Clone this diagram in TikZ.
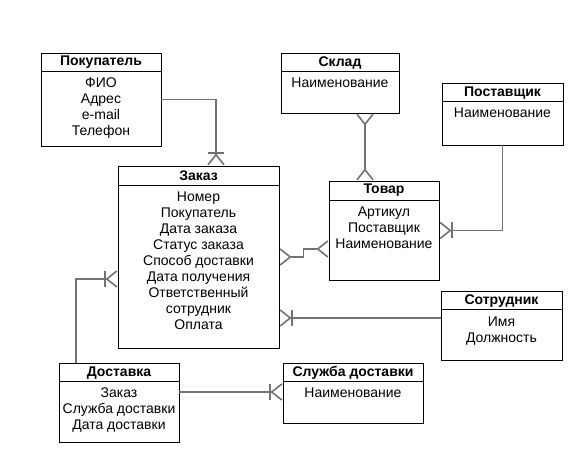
\documentclass[tikz,border=0pt]{standalone}
\usepackage{fontspec}
\setmainfont{Liberation Sans}
\usetikzlibrary{arrows.meta}

\begin{document}
\begin{tikzpicture}[x=1pt,y=-1pt,
  entity/.style={draw, line width=0.8pt, inner sep=0pt},
  title/.style={font=\fontsize{14}{16}\selectfont\bfseries, inner sep=0pt},
  attr/.style={font=\fontsize{14}{16}\selectfont, align=center, anchor=north, inner sep=0pt},
  link/.style={draw=black!55, line width=1.6pt},
  many/.style={-{Straight Barb[reversed, length=10pt, width=16pt]}},
  manymany/.style={{Straight Barb[reversed, length=10pt, width=16pt]}-{Straight Barb[reversed, length=10pt, width=16pt]}},
  onemany/.style={-{Bar[width=16pt, sep=0pt]Straight Barb[reversed, length=10pt, width=16pt]}}]
\useasboundingbox (0,0) rectangle (583,462);

% Покупатель
\node[entity, minimum width=120pt, minimum height=93pt] (pokup) at (101,99.5) {};
\draw ([yshift=-19pt]pokup.north west) -- ([yshift=-19pt]pokup.north east);
\node[title] at ([yshift=-10pt]pokup.north) {Покупатель};
\node[attr] at (101,78) {ФИО\\Адрес\\e-mail\\Телефон};

% Заказ
\node[entity, minimum width=161pt, minimum height=182pt] (zakaz) at (198.5,257) {};
\draw ([yshift=-20pt]zakaz.north west) -- ([yshift=-20pt]zakaz.north east);
\node[title] at ([yshift=-10pt]zakaz.north) {Заказ};
\node[attr] at (198.5,191.5) {Номер\\Покупатель\\Дата заказа\\Статус заказа\\Способ доставки\\Дата получения\\Ответственный\\сотрудник\\Оплата};

% Склад
\node[entity, minimum width=118pt, minimum height=60pt] (sklad) at (340,83) {};
\draw ([yshift=-19pt]sklad.north west) -- ([yshift=-19pt]sklad.north east);
\node[title] at ([yshift=-10pt]sklad.north) {Склад};
\node[attr] at (340,78) {Наименование};

% Поставщик
\node[entity, minimum width=121pt, minimum height=62pt] (postav) at (502.5,114) {};
\draw ([yshift=-19pt]postav.north west) -- ([yshift=-19pt]postav.north east);
\node[title] at ([yshift=-10pt]postav.north) {Поставщик};
\node[attr] at (502.5,108) {Наименование};

% Товар
\node[entity, minimum width=110pt, minimum height=99pt] (tovar) at (384,230.5) {};
\draw ([yshift=-20pt]tovar.north west) -- ([yshift=-20pt]tovar.north east);
\node[title] at ([yshift=-10pt]tovar.north) {Товар};
\node[attr] at (384,206.5) {Артикул\\Поставщик\\Наименование};

% Сотрудник
\node[entity, minimum width=121pt, minimum height=69pt] (sotr) at (501.5,325.5) {};
\draw ([yshift=-19pt]sotr.north west) -- ([yshift=-19pt]sotr.north east);
\node[title] at ([yshift=-10pt]sotr.north) {Сотрудник};
\node[attr] at (501.5,316.5) {Имя\\Должность};

% Доставка
\node[entity, minimum width=120pt, minimum height=79pt] (dost) at (119,402.5) {};
\draw ([yshift=-19pt]dost.north west) -- ([yshift=-19pt]dost.north east);
\node[title] at ([yshift=-10pt]dost.north) {Доставка};
\node[attr] at (119,388) {Заказ\\Служба доставки\\Дата доставки};

% Служба доставки
\node[entity, minimum width=140pt, minimum height=60pt] (sluzhba) at (353,393) {};
\draw ([yshift=-19pt]sluzhba.north west) -- ([yshift=-19pt]sluzhba.north east);
\node[title] at ([yshift=-10pt]sluzhba.north) {Служба доставки};
\node[attr] at (353,388) {Наименование};

% связи
\draw[link, onemany] (pokup.east) -| ([xshift=17.5pt]zakaz.north);
\draw[link, manymany] ([xshift=25pt]sklad.south) -- ([xshift=-19pt]tovar.north);
\draw[link, onemany] (postav.south) |- (tovar.east);
\draw[link, manymany] (zakaz.east) -- ++(24,0) |- ([yshift=-18.5pt]tovar.west);
\draw[link, onemany] ([yshift=7.5pt]sotr.west) -- ([yshift=7.5pt]sotr.west -| zakaz.east);
\draw[link, onemany] ([xshift=-43pt]dost.north) |- ([yshift=-22pt]zakaz.west);
\draw[link, onemany] ([yshift=10.5pt]dost.east) -- ([yshift=10.5pt]dost.east -| sluzhba.west);
\end{tikzpicture}
\end{document}
